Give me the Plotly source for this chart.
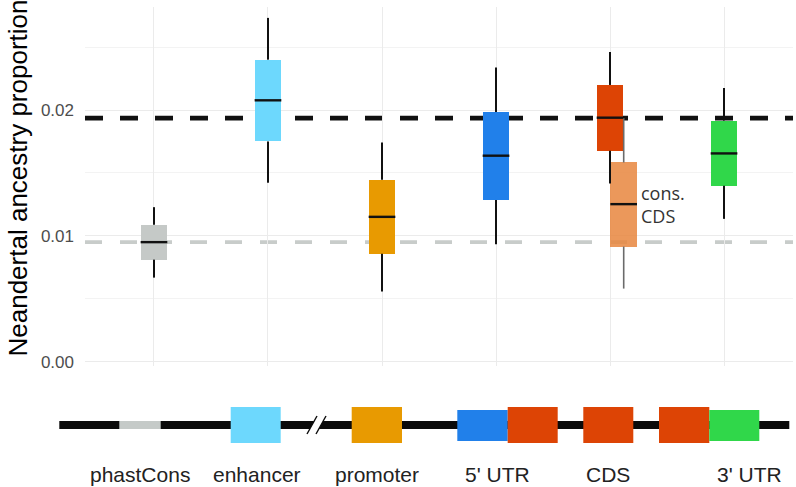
import plotly.graph_objects as go

# ---------------- data ----------------
categories = ["phastCons", "enhancer", "promoter", "5' UTR", "CDS", "3' UTR"]
box_names = ["phastCons", "enhancer", "promoter", "5' UTR", "CDS", "cons. CDS", "3' UTR"]
whisker_low = [0.00668, 0.01422, 0.00557, 0.00934, 0.01416, 0.00581, 0.01135]
q1_vals = [0.00811, 0.01750, 0.00857, 0.01284, 0.01676, 0.00915, 0.01398]
median_vals = [0.00950, 0.02077, 0.01151, 0.01637, 0.01939, 0.01252, 0.01655]
q3_vals = [0.01088, 0.02400, 0.01446, 0.01984, 0.02199, 0.01583, 0.01915]
whisker_high = [0.01228, 0.02732, 0.01742, 0.02337, 0.02461, 0.01936, 0.02175]
genome_mean = 0.01936      # black dashed reference
phastcons_mean = 0.00950   # grey dashed reference
y_ticks = [0.00, 0.01, 0.02]
y_tick_labels = ["0.00", "0.01", "0.02"]

# ---------------- styles ----------------
box_colors = ["#C5C9C7", "#6DD8FD", "#E89A01", "#2180EA", "#DD4405",
              "rgba(232,134,62,0.85)", "#30D74A"]
whisker_colors = ["#111"] * 5 + ["#6b6b6b"] + ["#111"]
box_width = 0.234
cons_offset = 0.12

cat_pos = {c: i + 1 for i, c in enumerate(categories)}
box_pos = [cat_pos.get(n, cat_pos["CDS"] + cons_offset) for n in box_names]

W, H = 796, 487
FONT = "Liberation Sans, Arial, sans-serif"

fig = go.Figure()

fig.add_trace(go.Bar(
    x=box_pos, y=[b - a for a, b in zip(q1_vals, q3_vals)], base=q1_vals,
    width=box_width, marker=dict(color=box_colors, line=dict(width=0)),
    showlegend=False, hoverinfo="skip", xaxis="x", yaxis="y"))

for col in ["#111", "#6b6b6b"]:
    xs, ys = [], []
    for p, lo, a, b, hi, c in zip(box_pos, whisker_low, q1_vals, q3_vals, whisker_high, whisker_colors):
        if c != col:
            continue
        xs += [p, p, None, p, p, None]
        ys += [lo, a, None, b, hi, None]
    fig.add_trace(go.Scatter(x=xs, y=ys, mode="lines",
                             line=dict(color=col, width=2 if col == "#111" else 1.6),
                             showlegend=False, hoverinfo="skip"))

mx, my = [], []
for p, m in zip(box_pos, median_vals):
    mx += [p - box_width / 2, p + box_width / 2, None]
    my += [m, m, None]
fig.add_trace(go.Scatter(x=mx, y=my, mode="lines", line=dict(color="#111", width=2.4),
                         showlegend=False, hoverinfo="skip"))

fig.add_trace(go.Scatter(x=[0], y=[400], xaxis="x2", yaxis="y2", mode="markers",
                         marker=dict(opacity=0), showlegend=False, hoverinfo="skip"))

# dashed reference lines (below traces)
x_lo, x_hi = 0.395, 6.605
fig.add_shape(type="line", xref="x", yref="y", x0=x_lo, x1=x_hi, y0=genome_mean, y1=genome_mean,
              line=dict(color="#111", width=4.7, dash="18px,17px"), layer="below")
fig.add_shape(type="line", xref="x", yref="y", x0=x_lo, x1=x_hi, y0=phastcons_mean, y1=phastcons_mean,
              line=dict(color="#C8CCCA", width=3.7, dash="17px,18px"), layer="below")

fig.add_annotation(x=cat_pos["CDS"] + 0.255, y=median_vals[5], xref="x", yref="y",
                   text="cons.<br>CDS", showarrow=False, xanchor="left", yanchor="middle",
                   align="left", font=dict(family="Open Sans, sans-serif", size=18, color="#333"))

# ---------------- gene diagram (pixel coordinates on hidden axes) ----------------
def rect(x0, x1, y0, y1, color):
    fig.add_shape(type="rect", xref="x2", yref="y2", x0=x0, x1=x1, y0=y0, y1=y1,
                  fillcolor=color, line=dict(width=0), layer="above")

rect(59.3, 789.3, 421, 429, "#0a0a0a")
rect(119.3, 160.7, 421, 429, "#C5CAC8")
rect(230.7, 280.7, 407, 443, "#6DD8FD")
fig.add_shape(type="path", xref="x2", yref="y2",
              path="M 309.8,429 L 314.2,421 L 323.2,421 L 318.8,429 Z",
              fillcolor="white", line=dict(width=0), layer="above")
for dx in (0, 9):
    fig.add_shape(type="line", xref="x2", yref="y2", x0=307 + dx, y0=434, x1=317 + dx, y1=416,
                  line=dict(color="#0a0a0a", width=1.4), layer="above")
rect(351.7, 402.0, 407, 443, "#E89A01")
rect(457.3, 507.7, 410, 441, "#2180EA")
rect(507.7, 557.7, 407, 443, "#DD4405")
rect(583.3, 633.3, 407, 443, "#DD4405")
rect(659.0, 709.3, 407, 443, "#DD4405")
rect(709.3, 759.3, 410, 441, "#30D74A")

label_x = [139.5, 256.5, 377, 497.5, 608, 749.5]
for lab, lx in zip(categories, label_x):
    fig.add_annotation(x=lx, y=474, xref="x2", yref="y2", text=lab, showarrow=False,
                       xanchor="center", yanchor="middle",
                       font=dict(family=FONT, size=21, color="#222"))

fig.add_annotation(x=17.5 / W, y=1 - 178 / H, xref="paper", yref="paper",
                   text="Neandertal ancestry proportion", textangle=-90, showarrow=False,
                   xanchor="center", yanchor="middle",
                   font=dict(family=FONT, size=26, color="#000"))

ytop = 0.028185
ybot = -0.000342
fig.update_layout(
    width=W, height=H, template="none",
    margin=dict(l=0, r=0, t=0, b=0, pad=0),
    paper_bgcolor="white", plot_bgcolor="rgba(0,0,0,0)",
    bargap=0, showlegend=False,
    xaxis=dict(domain=[85 / W, 793 / W], range=[x_lo, x_hi], tickvals=list(range(1, 7)),
               showticklabels=False, ticks="", showgrid=True, gridcolor="#EBEBEB",
               gridwidth=1.3, zeroline=False, showline=False, automargin=False, anchor="y"),
    yaxis=dict(domain=[1 - 366 / H, 1 - 7 / H], range=[ybot, ytop], tickvals=y_ticks,
               ticktext=y_tick_labels, ticks="", showgrid=True, gridcolor="#EBEBEB", gridwidth=1.1,
               minor=dict(tickvals=[0.005, 0.015, 0.025], showgrid=True, gridcolor="#F3F3F3", gridwidth=0.8),
               zeroline=False, showline=False, automargin=False, anchor="x",
               ticklabelstandoff=10,
               tickfont=dict(family=FONT, size=17, color="#4D4D4D")),
    xaxis2=dict(domain=[0, 1], range=[0, W], showgrid=False, zeroline=False, showticklabels=False,
                ticks="", showline=False, anchor="y2", fixedrange=True),
    yaxis2=dict(domain=[0, 1 - 380 / H], range=[H, 380], showgrid=False, zeroline=False,
                showticklabels=False, ticks="", showline=False, anchor="x2", fixedrange=True),
)

fig.write_html("out.html", config={"displayModeBar": False},
               post_script="document.body.style.margin='0';document.body.style.overflow='hidden';")
